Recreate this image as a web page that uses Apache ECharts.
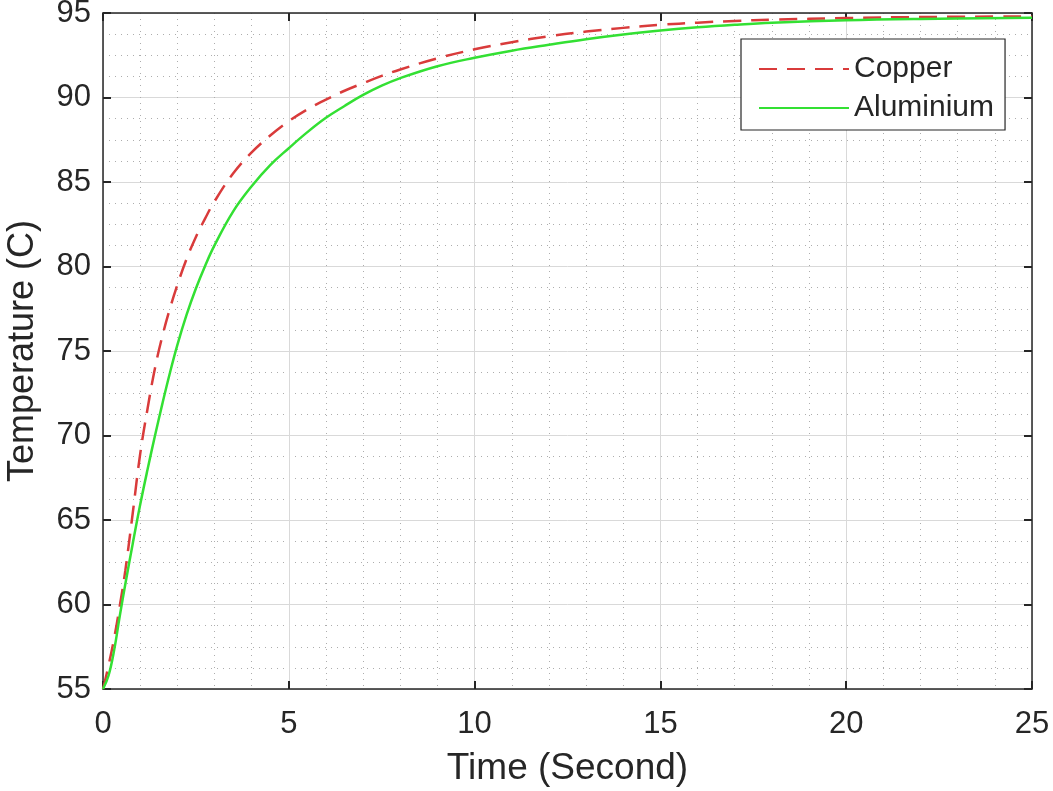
<!DOCTYPE html>
<html>
<head>
<meta charset="utf-8">
<script src="https://cdn.jsdelivr.net/npm/echarts@6/dist/echarts.min.js"></script>
<style>
html,body{margin:0;padding:0;background:#fff;}
#chart{width:1053px;height:791px;}
</style>
</head>
<body>
<div id="chart"></div>
<script>
const copperTime = [0, 0.15, 0.3, 0.45, 0.6, 0.8, 1.0, 1.2, 1.4, 1.6, 1.8, 2.0, 2.25, 2.5, 2.75, 3.0, 3.5, 4.0, 4.5, 5.0, 5.5, 6.0, 6.5, 7.0, 7.5, 8.0, 9.0, 10.0, 11.0, 12.0, 13.0, 14.0, 15.0, 16.0, 17.0, 18.0, 20.0, 22.0, 25.0];
const copperTemp = [55, 56.4, 58.0, 59.9, 62.0, 65.4, 68.9, 71.6, 74.0, 75.9, 77.5, 78.9, 80.45, 81.75, 82.85, 83.85, 85.5, 86.75, 87.75, 88.6, 89.3, 89.88, 90.4, 90.85, 91.28, 91.66, 92.32, 92.85, 93.27, 93.62, 93.9, 94.12, 94.3, 94.43, 94.53, 94.6, 94.7, 94.76, 94.8];
const aluTime = [0, 0.15, 0.3, 0.45, 0.6, 0.8, 1.0, 1.2, 1.4, 1.6, 1.8, 2.0, 2.25, 2.5, 2.75, 3.0, 3.5, 4.0, 4.5, 5.0, 5.5, 6.0, 6.5, 7.0, 7.5, 8.0, 9.0, 10.0, 11.0, 12.0, 13.0, 14.0, 15.0, 16.0, 17.0, 18.0, 20.0, 22.0, 25.0];
const aluTemp = [55, 55.8, 57.3, 59.3, 61.2, 63.6, 65.9, 68.0, 70.0, 71.9, 73.7, 75.35, 77.15, 78.7, 80.05, 81.25, 83.25, 84.75, 86.0, 87.0, 87.95, 88.8, 89.5, 90.15, 90.7, 91.15, 91.85, 92.35, 92.77, 93.12, 93.45, 93.73, 93.96, 94.15, 94.3, 94.42, 94.57, 94.65, 94.72];
const seriesNames = ['Copper', 'Aluminium'];
const xTicks = [0, 5, 10, 15, 20, 25];
const yTicks = [55, 60, 65, 70, 75, 80, 85, 90, 95];

const toPairs = (xs, ys) => xs.map((x, i) => [x, ys[i]]);
const font = 'Liberation Sans, Arial, sans-serif';
const txt = '#262626';
const frame = '#262626';

const chart = echarts.init(document.getElementById('chart'), null, {renderer: 'canvas'});
const majorLine = {show: true, lineStyle: {color: '#d9d9d9', width: 1, type: 'solid'}};
const minorLine = {show: true, lineStyle: {color: '#adadad', width: 1, type: [1, 5]}};
const tick = {show: true, inside: true, length: 8, lineStyle: {color: frame, width: 2}};
const axLine = {show: true, onZero: false, lineStyle: {color: frame, width: 1.5}};
chart.setOption({
  animation: false,
  backgroundColor: '#fff',
  grid: {left: 103, right: 21, top: 13, bottom: 102, show: false, containLabel: false, outerBoundsMode: 'none'},
  legend: {
    data: seriesNames,
    orient: 'vertical',
    left: 741, top: 39,
    padding: [15, 11, 7, 17],
    itemGap: 9,
    itemWidth: 90, itemHeight: 14,
    backgroundColor: '#fff',
    borderColor: frame, borderWidth: 1.2, borderRadius: 0,
    itemStyle: {opacity: 0},
    textStyle: {fontFamily: font, fontSize: 30, color: txt, padding: [0, 0, 0, 0]}
  },
  xAxis: [{
    type: 'value', min: 0, max: 25, interval: 5,
    name: 'Time (Second)', nameLocation: 'middle', nameGap: 61,
    nameTextStyle: {fontFamily: font, fontSize: 37, color: txt},
    axisLine: axLine, axisTick: tick,
    axisLabel: {fontFamily: font, fontSize: 31, color: txt, margin: 20,
      formatter: v => xTicks.includes(v) ? String(v) : ''},
    splitLine: majorLine,
    minorTick: {show: false, splitNumber: 5},
    minorSplitLine: minorLine
  }, {
    type: 'value', min: 0, max: 25, interval: 5, position: 'top',
    axisLine: axLine, axisTick: tick,
    axisLabel: {show: false}, splitLine: {show: false}
  }],
  yAxis: [{
    type: 'value', min: 55, max: 95, interval: 5,
    name: 'Temperature (C)', nameLocation: 'middle', nameGap: 62,
    nameTextStyle: {fontFamily: font, fontSize: 36, color: txt},
    axisLine: axLine, axisTick: tick,
    axisLabel: {fontFamily: font, fontSize: 31, color: txt, margin: 12,
      formatter: v => yTicks.includes(v) ? String(v) : ''},
    splitLine: majorLine,
    minorTick: {show: false, splitNumber: 4},
    minorSplitLine: minorLine
  }, {
    type: 'value', min: 55, max: 95, interval: 5, position: 'right',
    axisLine: axLine, axisTick: tick,
    axisLabel: {show: false}, splitLine: {show: false}
  }],
  series: [{
    name: seriesNames[0], type: 'line', smooth: 0.4, showSymbol: false, symbol: 'none', symbolSize: 0,
    data: toPairs(copperTime, copperTemp),
    lineStyle: {color: '#d93b3b', width: 2.5, type: [18, 10]},
    itemStyle: {color: '#d93b3b'}, z: 3
  }, {
    name: seriesNames[1], type: 'line', smooth: 0.4, showSymbol: false, symbol: 'none', symbolSize: 0,
    data: toPairs(aluTime, aluTemp),
    lineStyle: {color: '#33e033', width: 2.5, type: 'solid'},
    itemStyle: {color: '#33e033'}, z: 4
  }]
});
</script>
</body>
</html>
